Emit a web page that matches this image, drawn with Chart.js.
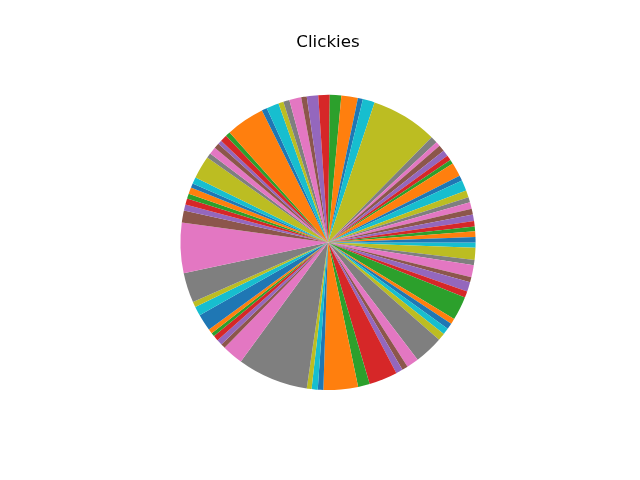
<!DOCTYPE html>
<html>
<head>
<meta charset="utf-8">
<title>Clickies</title>
<script src="https://cdn.jsdelivr.net/npm/chart.js@4/dist/chart.umd.min.js"></script>
<style>
    html, body { margin: 0; padding: 0; background: #fff; }
    #wrap { width: 640px; height: 480px; }
</style>
</head>
<body>
<div id="wrap"><canvas id="pieChart" width="640" height="480"></canvas></div>
<script>
// ── Data (counter-clockwise from 3 o'clock, like the source) ──
const chartTitle = 'Clickies';

const shares = [
    2.1, 2.2, 1.9, 2.1, 2.6, 2.3, 2.6, 2.0, 2.8, 4.2,
    2.1, 5.4, 1.7, 2.0, 2.4, 2.5, 1.8, 2.7, 26.2, 4.7,
    2.0, 6.5, 4.5, 4.5, 4.5, 2.2, 4.7, 2.4, 2.0, 4.9,
    2.1, 15.2, 1.9, 2.7, 1.6, 2.1, 2.9, 1.9, 9.0, 2.6,
    1.7, 2.5, 2.0, 2.4, 2.4, 4.7, 19.9, 11.7, 2.1, 3.7,
    6.6, 1.8, 1.4, 2.1, 2.2, 1.8, 8.3, 27.9, 1.9, 2.4,
    2.2, 13.6, 4.6, 11.2, 2.7, 2.3, 4.8, 11.4, 2.9, 2.5,
    2.4, 2.1, 9.4, 2.5, 3.7, 2.0, 4.8, 2.1, 4.7, 2.1,
];

const categories = shares.map((_, i) => 'Item ' + (i + 1));

// matplotlib tab10 cycle
const palette = ['#1f77b4','#ff7f0e','#2ca02c','#d62728','#9467bd',
                 '#8c564b','#e377c2','#7f7f7f','#bcbd22','#17becf'];

// Chart.js goes clockwise, so feed the slices reversed and start at 3 o'clock
const colors = shares.map((_, i) => palette[i % palette.length]);
const revData   = shares.slice().reverse();
const revLabels = categories.slice().reverse();
const revColors = colors.slice().reverse();

new Chart(document.getElementById('pieChart'), {
    type: 'pie',
    data: {
        labels: revLabels,
        datasets: [{
            data: revData,
            backgroundColor: revColors,
            borderWidth: 0,
        }],
    },
    options: {
        responsive: false,
        animation: false,
        rotation: 90,
        layout: { padding: { left: 180, right: 164, top: 33, bottom: 90 } },
        plugins: {
            legend: { display: false },
            tooltip: { enabled: false },
            title: {
                display: true,
                text: chartTitle,
                color: '#000',
                font: { family: 'DejaVu Sans', size: 16.7, weight: 'normal' },
                padding: { top: 0, bottom: 41.8 },
            },
        },
    },
    plugins: [{
        id: 'whiteBg',
        beforeDraw(c) {
            const ctx = c.ctx;
            ctx.save();
            ctx.fillStyle = '#fff';
            ctx.fillRect(0, 0, c.width, c.height);
            ctx.restore();
        },
    }],
});
</script>
</body>
</html>
